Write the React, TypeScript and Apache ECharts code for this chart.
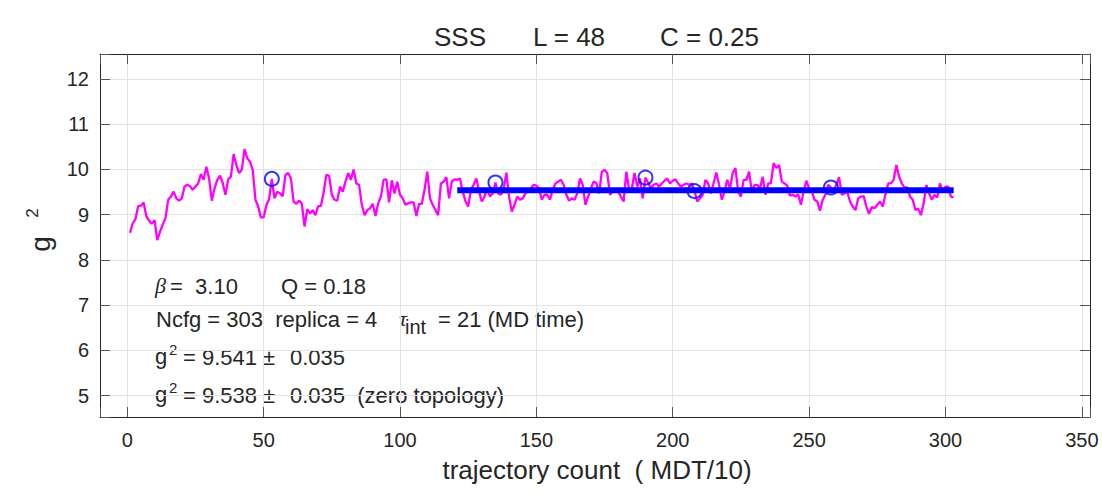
import React, { useEffect, useRef } from "react";
import * as echarts from "echarts";

// g^2 per trajectory (trajectory count 1..303)
const g2Values: number[] = [
  8.60, 8.81, 8.90, 9.19, 9.20, 9.27, 8.96, 8.87, 8.80, 8.88,
  8.44, 8.62, 8.78, 8.92, 9.33, 9.40, 9.51, 9.36, 9.31, 9.36,
  9.62, 9.66, 9.63, 9.55, 9.62, 9.69, 9.90, 9.77, 10.06, 9.80,
  9.31, 9.58, 9.77, 9.86, 9.70, 9.44, 9.78, 9.84, 10.34, 10.10,
  9.92, 9.99, 10.45, 10.25, 10.17, 9.99, 9.33, 9.18, 8.94, 8.94,
  9.21, 9.34, 9.79, 9.36, 9.51, 9.47, 9.41, 9.88, 9.92, 9.80,
  9.29, 9.24, 9.31, 9.25, 8.74, 9.12, 9.03, 9.10, 8.99, 9.19,
  9.19, 9.49, 9.88, 9.86, 9.44, 9.33, 9.31, 9.62, 9.51, 9.73,
  9.92, 9.77, 10.00, 9.69, 9.66, 9.22, 8.99, 9.10, 9.14, 9.24,
  8.97, 9.25, 9.40, 9.77, 9.78, 9.27, 9.76, 9.47, 9.73, 9.44,
  9.36, 9.22, 9.25, 9.27, 9.27, 8.97, 9.24, 9.24, 9.55, 9.95,
  9.36, 9.22, 9.10, 8.99, 9.69, 9.73, 9.83, 9.36, 9.73, 9.78,
  9.77, 9.80, 9.51, 9.30, 9.18, 9.55, 9.66, 9.80, 9.51, 9.29,
  9.40, 9.58, 9.40, 9.47, 9.71, 9.47, 9.44, 9.55, 9.93, 9.40,
  9.07, 9.22, 9.40, 9.33, 9.36, 9.47, 9.51, 9.58, 9.66, 9.64,
  9.58, 9.33, 9.44, 9.44, 9.33, 9.55, 9.69, 9.73, 9.77, 9.66,
  9.44, 9.31, 9.36, 9.33, 9.47, 9.80, 9.66, 9.22, 9.40, 9.58,
  9.73, 9.70, 9.47, 9.95, 9.99, 9.92, 9.44, 9.51, 9.55, 9.51,
  9.40, 9.29, 9.95, 9.55, 9.58, 9.92, 9.62, 9.80, 9.36, 9.82,
  9.70, 9.58, 9.66, 9.69, 9.62, 9.69, 9.75, 9.80, 9.69, 9.75,
  9.78, 9.69, 9.62, 9.66, 9.69, 9.66, 9.69, 9.52, 9.29, 9.36,
  9.44, 9.77, 9.69, 9.47, 9.70, 9.93, 9.66, 9.33, 9.51, 9.77,
  9.58, 9.92, 10.03, 9.51, 9.40, 9.77, 9.77, 9.95, 9.51, 9.66,
  9.66, 9.58, 9.84, 9.44, 9.69, 9.69, 10.14, 10.03, 10.10, 9.73,
  9.69, 9.64, 9.42, 9.44, 9.40, 9.45, 9.22, 9.51, 9.75, 9.58,
  9.51, 9.33, 9.29, 9.09, 9.33, 9.44, 9.66, 9.60, 9.55, 9.66,
  9.83, 9.44, 9.47, 9.51, 9.29, 9.18, 9.10, 9.36, 9.40, 9.41,
  9.18, 9.02, 9.17, 9.14, 9.22, 9.29, 9.18, 9.44, 9.69, 9.69,
  9.77, 10.10, 9.84, 9.69, 9.60, 9.60, 9.40, 9.33, 9.10, 9.14,
  8.99, 9.25, 9.66, 9.47, 9.33, 9.44, 9.38, 9.69, 9.51, 9.62,
  9.62, 9.40, 9.38,
];
const firstCount = 1;

// fit (average) line
const fitRange: number[] = [121, 303];
const fitValue = 9.541;

// highlighted configurations (trajectory counts)
const markedCounts: number[] = [53, 135, 190, 208, 258];

// axes
const xTicks: number[] = [0, 50, 100, 150, 200, 250, 300, 350];
const yTicks: number[] = [5, 6, 7, 8, 9, 10, 11, 12];

const FONT = "'Liberation Sans', Arial, Helvetica, sans-serif";
const AX = "#262626";

export default function App() {
  const ref = useRef<HTMLDivElement>(null);
  useEffect(() => {
    document.body.style.margin = "0";
    const chart = echarts.init(ref.current!, undefined, { renderer: "svg" });
    const lineData = g2Values.map((v, i) => [firstCount + i, v]);
    const markData = markedCounts.map((c) => [c, g2Values[c - firstCount]]);
    const fitData = fitRange.map((x) => [x, fitValue]);

    const xCommon = {
      type: "value",
      min: -10,
      max: 353,
      splitNumber: 7,
      minInterval: xTicks[1] - xTicks[0],
      maxInterval: xTicks[1] - xTicks[0],
    };
    const yCommon = {
      type: "value",
      min: 4.53,
      max: 12.55,
      splitNumber: 8,
      minInterval: yTicks[1] - yTicks[0],
      maxInterval: yTicks[1] - yTicks[0],
    };
    const tick = { show: true, inside: true, length: 10, lineStyle: { color: "#555", width: 1 } };
    const line = { show: true, onZero: false, lineStyle: { color: AX, width: 1 } };

    const textBase = { fontFamily: FONT, fill: AX, fontSize: 22, verticalAlign: "middle", align: "left" };
    const t = (x: number, y: number, text: string, extra: any = {}) => ({
      type: "text",
      x,
      y,
      silent: true,
      style: { ...textBase, text, ...extra },
    });

    chart.setOption({
      animation: false,
      textStyle: { fontFamily: FONT },
      grid: { left: 100, top: 54, right: 12, bottom: 80, show: false },
      xAxis: [
        {
          ...xCommon,
          position: "bottom",
          axisLine: line,
          axisTick: tick,
          axisLabel: {
            color: AX,
            fontSize: 20,
            margin: 13,
            formatter: (v: number) => (xTicks.includes(v) ? String(v) : ""),
          },
          splitLine: { show: true, lineStyle: { color: "#e3e3e3", width: 1 } },
        },
        {
          ...xCommon,
          position: "top",
          axisLine: line,
          axisTick: tick,
          axisLabel: { show: false },
          splitLine: { show: false },
        },
      ],
      yAxis: [
        {
          ...yCommon,
          position: "left",
          axisLine: line,
          axisTick: tick,
          axisLabel: {
            color: AX,
            fontSize: 20,
            margin: 11,
            formatter: (v: number) => (yTicks.includes(v) ? String(v) : ""),
          },
          splitLine: { show: true, lineStyle: { color: "#e3e3e3", width: 1 } },
        },
        {
          ...yCommon,
          position: "right",
          axisLine: line,
          axisTick: tick,
          axisLabel: { show: false },
          splitLine: { show: false },
        },
      ],
      series: [
        {
          type: "line",
          data: lineData,
          symbol: "none",
          lineStyle: { color: "#ff00ff", width: 2.3 },
          itemStyle: { color: "#ff00ff" },
          silent: true,
          z: 2,
        },
        {
          type: "line",
          data: fitData,
          symbol: "none",
          lineStyle: { color: "#0000ff", width: 6 },
          itemStyle: { color: "#0000ff" },
          silent: true,
          z: 3,
        },
        {
          type: "scatter",
          data: markData,
          symbol: "circle",
          symbolSize: 14,
          itemStyle: { color: "rgba(0,0,0,0)", borderColor: "#0000ff", borderWidth: 2 },
          silent: true,
          z: 4,
        },
      ],
      graphic: [
        // title
        t(434, 37, "SSS", { fontSize: 26 }),
        t(533, 37, "L = 48", { fontSize: 26 }),
        t(660, 37, "C = 0.25", { fontSize: 26 }),
        // x axis name
        t(597, 470, "trajectory count  ( MDT/10)", { fontSize: 26, align: "center" }),
        // y axis name (rotated)
        { type: "text", x: 40, y: 244, rotation: Math.PI / 2, silent: true,
          style: { ...textBase, text: "g", fontSize: 28, align: "center" } },
        { type: "text", x: 32, y: 213, rotation: Math.PI / 2, silent: true,
          style: { ...textBase, text: "2", fontSize: 17, align: "center" } },
        // annotations
        t(155, 285, "β", { fontStyle: "italic", fontFamily: "'Liberation Serif', serif" }),
        t(170, 286, "=  3.10"),
        t(281, 286, "Q = 0.18"),
        t(156, 319, "Ncfg = 303  replica = 4"),
        t(399, 318, "τ", { fontStyle: "italic", fontFamily: "'Liberation Serif', serif" }),
        t(405, 327, "int", { fontSize: 20 }),
        t(438, 319, "= 21 (MD time)"),
        t(155, 356, "g"),
        t(169, 349, "2", { fontSize: 15 }),
        t(183, 357, "= 9.541"),
        t(263, 357, "±"),
        t(290, 357, "0.035"),
        t(155, 394, "g"),
        t(169, 387, "2", { fontSize: 15 }),
        t(183, 395, "= 9.538"),
        t(263, 395, "±"),
        t(290, 395, "0.035  (zero topology)"),
      ],
    });
    return () => chart.dispose();
  }, []);
  return <div ref={ref} style={{ position: "absolute", left: 0, top: 0, width: 1102, height: 497 }} />;
}
